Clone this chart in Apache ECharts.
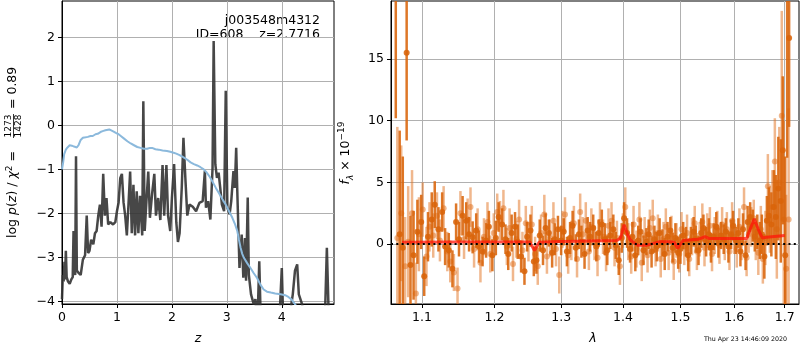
<!DOCTYPE html>
<html>
<head>
<meta charset="utf-8">
<script src="https://cdn.jsdelivr.net/npm/echarts@6/dist/echarts.min.js"></script>
<style>html,body{margin:0;padding:0;background:#fff}#chart{width:800px;height:350px}</style>
</head>
<body>
<div id="chart"></div>
<script>
// left panel: p(z) curve (dark) and prior (blue)
var pzZ = [0.00, 0.015, 0.03, 0.045, 0.055, 0.07, 0.085, 0.11, 0.14, 0.17, 0.195, 0.21, 0.225, 0.24, 0.255, 0.27, 0.30, 0.34, 0.38, 0.42,
    0.45, 0.475, 0.50, 0.53, 0.57, 0.60, 0.63, 0.66, 0.69, 0.72, 0.75, 0.78, 0.81, 0.84, 0.88, 0.93, 0.97, 1.00, 1.03, 1.06,
    1.09, 1.12, 1.15, 1.18, 1.21, 1.24, 1.27, 1.30, 1.33, 1.36, 1.39, 1.42, 1.46, 1.48, 1.505, 1.54, 1.57, 1.60, 1.64, 1.68,
    1.71, 1.75, 1.79, 1.83, 1.86, 1.90, 1.93, 1.97, 2.00, 2.04, 2.08, 2.11, 2.14, 2.18, 2.21, 2.245, 2.28, 2.32, 2.38, 2.44,
    2.50, 2.56, 2.60, 2.62, 2.66, 2.70, 2.74, 2.76, 2.79, 2.82, 2.85, 2.88, 2.91, 2.95, 2.98, 3.01, 3.05, 3.08, 3.12, 3.145,
    3.17, 3.19, 3.23, 3.27, 3.30, 3.33, 3.35, 3.38, 3.40, 3.44, 3.49, 3.52, 3.555, 3.59, 3.62, 3.70, 3.80, 3.95, 4.00, 4.03,
    4.10, 4.17, 4.20, 4.24, 4.28, 4.31, 4.37, 4.42, 4.60, 4.78, 4.82, 4.86, 4.92];
var pzLog = [-3.95, -3.4, -3.55, -3.1, -3.5, -2.85, -3.45, -3.55, -3.6, -3.5, -3.45, -2.4, -3.3, -3.4, -0.7, -3.3, -3.35, -3.4, -3.05, -2.95,
    -2.05, -2.9, -2.85, -2.6, -2.7, -2.45, -2.4, -2.05, -1.8, -2.3, -1.1, -2.05, -1.65, -2.25, -2.2, -2.25, -2.2, -1.95, -1.75, -1.2,
    -1.1, -1.75, -2.05, -2.5, -1.8, -1.05, -2.45, -1.35, -2.5, -1.5, -2.45, -1.6, -2.5, 0.55, -2.4, -1.65, -1.05, -2.1, -1.55, -1.1,
    -2.05, -1.65, -2.15, -0.9, -2.05, -0.9, -2.05, -2.4, -1.65, -0.88, -2.2, -2.65, -2.45, -1.4, -0.28, -1.2, -2.05, -1.8, -1.85, -1.95,
    -1.76, -1.72, -1.04, -1.87, -1.72, -2.14, -0.96, 1.92, -0.88, -1.19, -1.07, -1.42, -1.8, -1.95, 0.79, -1.87, -2.02, -1.72, -1.04, -1.42,
    -0.51, -1.49, -3.24, -2.48, -3.46, -2.56, -3.53, -1.64, -3.39, -3.84, -4.07, -3.95, -4.6, -3.09, -4.6, -5.0, -5.0, -4.6, -3.24, -4.6,
    -4.4, -4.1, -3.84, -3.3, -3.16, -3.84, -4.07, -4.6, -5.0, -4.6, -2.78, -4.6, -5.0];

var priorZ = [0.00, 0.02, 0.04, 0.07, 0.10, 0.14, 0.18, 0.22, 0.27, 0.30, 0.34, 0.38, 0.43, 0.47, 0.52, 0.56, 0.61, 0.65, 0.70, 0.74,
    0.79, 0.82, 0.86, 0.89, 0.94, 0.98, 1.03, 1.07, 1.13, 1.19, 1.25, 1.31, 1.37, 1.43, 1.49, 1.55, 1.60, 1.64, 1.70, 1.76,
    1.83, 1.91, 1.97, 2.03, 2.08, 2.13, 2.18, 2.22, 2.28, 2.34, 2.40, 2.46, 2.52, 2.58, 2.62, 2.68, 2.74, 2.80, 2.86, 2.92,
    2.98, 3.04, 3.10, 3.15, 3.19, 3.22, 3.25, 3.28, 3.31, 3.37, 3.43, 3.49, 3.55, 3.61, 3.67, 3.73, 3.80, 3.88, 3.98, 4.06,
    4.12, 4.18, 4.22, 4.27];
var priorLog = [-1.0, -0.85, -0.65, -0.55, -0.5, -0.45, -0.46, -0.48, -0.5, -0.45, -0.33, -0.28, -0.27, -0.26, -0.24, -0.24, -0.2, -0.19, -0.15, -0.13,
    -0.11, -0.08, -0.09, -0.12, -0.14, -0.17, -0.2, -0.24, -0.3, -0.36, -0.41, -0.45, -0.49, -0.51, -0.53, -0.53, -0.51, -0.51, -0.54, -0.55,
    -0.57, -0.58, -0.6, -0.62, -0.64, -0.67, -0.7, -0.73, -0.78, -0.84, -0.88, -0.91, -0.95, -1.0, -1.05, -1.15, -1.28, -1.42, -1.55, -1.68,
    -1.8, -1.95, -2.1, -2.25, -2.4, -2.6, -2.78, -2.92, -3.01, -3.13, -3.24, -3.36, -3.47, -3.62, -3.73, -3.78, -3.8, -3.82, -3.84, -3.86,
    -3.9, -3.96, -4.03, -4.12];

var zTicks = [0, 1, 2, 3, 4];
var logTicks = [-4, -3, -2, -1, 0, 1, 2];

// right panel: spectrum (two sets of error bars) and model
var darkWave = [1.066, 1.071, 1.075, 1.080, 1.085, 1.089, 1.094, 1.099, 1.103, 1.108,
    1.113, 1.117, 1.122, 1.127, 1.131, 1.136, 1.141, 1.146, 1.150, 1.155,
    1.160, 1.164, 1.169, 1.174, 1.178, 1.183, 1.188, 1.192, 1.197, 1.202,
    1.206, 1.211, 1.216, 1.220, 1.225, 1.230, 1.234, 1.239, 1.244, 1.248,
    1.253, 1.258, 1.262, 1.267, 1.272, 1.276, 1.281, 1.286, 1.290, 1.295,
    1.300, 1.304, 1.309, 1.314, 1.318, 1.323, 1.328, 1.332, 1.337, 1.342,
    1.346, 1.351, 1.356, 1.360, 1.365, 1.370, 1.374, 1.379, 1.384, 1.388,
    1.393, 1.398, 1.402, 1.407, 1.412, 1.416, 1.421, 1.426, 1.430, 1.435,
    1.440, 1.444, 1.449, 1.454, 1.458, 1.463, 1.468, 1.472, 1.477, 1.482,
    1.486, 1.491, 1.496, 1.500, 1.505, 1.510, 1.514, 1.519, 1.524, 1.528,
    1.533, 1.538, 1.542, 1.547, 1.552, 1.556, 1.561, 1.566, 1.570, 1.575,
    1.580, 1.584, 1.589, 1.594, 1.598, 1.603, 1.608, 1.612, 1.617, 1.622,
    1.626, 1.631, 1.636, 1.640, 1.645, 1.650, 1.654, 1.659, 1.664, 1.668,
    1.673, 1.678, 1.682, 1.687, 1.692, 1.696, 1.701, 1.705, 1.709];
var darkFlux = [25, 0.8, -0.3, 15.5, -1.7, -0.9, 1.0, 1.8, -2.6, 0.6,
    2.0, 3.2, 1.2, 2.6, -0.2, -0.5, -2.0, 1.8, 0.4, 2.3,
    1.9, 0.8, 0.55, 1.1, -0.2, -0.6, 0.3, 1.4, -0.9, 0.5,
    2.2, 1.6, 0.4, -0.8, 0.9, 1.4, 0.2, -1.0, -2.2, 0.6,
    1.1, -1.4, -1.3, 0.7, -0.5, 1.3, 0.9, -0.7, 0.4, 1.2,
    0.3, 1.0, -0.6, 0.5, 1.5, -0.3, 0.8, 0.2, -0.8, 1.1,
    0.6, 1.3, -0.2, 0.9, 1.6, 0.4, -0.5, 0.7, 1.2, -0.1,
    -1.3, 0.5, 2.1, 0.9, -0.4, 0.6, -0.9, 0.3, 1.0, -0.5,
    0.2, 0.8, -0.6, 0.4, -0.2, 0.9, 0.1, -0.8, 0.6, 1.1,
    -0.3, 0.5, -0.7, -0.4, 0.7, 0.2, -0.9, 0.3, 1.0, 0.4,
    -0.5, 0.9, 1.3, 0.2, 0.8, -0.3, 0.6, 1.4, 0.1, 0.7,
    0.4, 1.0, -0.2, 0.8, 1.5, 0.3, 0.9, -0.6, 1.2, -0.9,
    1.8, 2.2, 1.5, 0.6, 1.0, 0.3, 0.8, -1.0, 1.9, 2.3,
    1.6, 3.0, 2.2, 4.5, 3.5, 7.6, -0.9, 25, 16.7];
var darkErr = [14.8, 8.4, 7.4, 7.1, 4.0, 3.6, 2.6, 2.2, 1.6, 2.0,
    2.2, 1.9, 1.8, 1.6, 1.5, 1.4, 1.5, 1.5, 1.4, 1.6,
    1.5, 1.4, 1.3, 1.4, 1.3, 1.2, 1.4, 1.3, 1.3, 1.4,
    1.2, 1.3, 1.2, 1.3, 1.5, 1.2, 1.4, 1.3, 1.1, 1.2,
    1.3, 1.2, 1.1, 1.3, 1.2, 1.2, 1.1, 1.2, 1.3, 1.1,
    1.2, 1.1, 1.2, 1.3, 1.2, 1.1, 1.2, 1.3, 1.2, 1.1,
    1.2, 1.1, 1.2, 1.1, 1.2, 1.3, 1.2, 1.1, 1.2, 1.1,
    1.2, 1.2, 1.3, 1.2, 1.1, 1.2, 1.3, 1.2, 1.1, 1.2,
    1.1, 1.2, 1.3, 1.1, 1.2, 1.2, 1.1, 1.3, 1.2, 1.1,
    1.2, 1.2, 1.3, 1.2, 1.1, 1.2, 1.3, 1.1, 1.2, 1.1,
    1.2, 1.2, 1.1, 1.2, 1.3, 1.2, 1.1, 1.2, 1.2, 1.1,
    1.2, 1.1, 1.3, 1.2, 1.2, 1.1, 1.2, 1.2, 1.3, 1.2,
    1.3, 1.2, 1.3, 1.2, 1.4, 1.5, 1.6, 1.8, 2.0, 2.3,
    2.6, 3.0, 3.4, 4.2, 5.0, 6.0, 8.0, 18, 7.2];

var lightWave = [1.068, 1.073, 1.078, 1.082, 1.087, 1.092, 1.096, 1.101, 1.106, 1.110,
    1.115, 1.120, 1.124, 1.129, 1.134, 1.138, 1.143, 1.148, 1.152, 1.157,
    1.162, 1.166, 1.171, 1.176, 1.180, 1.185, 1.190, 1.194, 1.199, 1.204,
    1.208, 1.213, 1.218, 1.222, 1.227, 1.232, 1.236, 1.241, 1.246, 1.250,
    1.255, 1.260, 1.264, 1.269, 1.274, 1.278, 1.283, 1.288, 1.292, 1.297,
    1.302, 1.306, 1.311, 1.316, 1.320, 1.325, 1.330, 1.334, 1.339, 1.344,
    1.348, 1.353, 1.358, 1.362, 1.367, 1.372, 1.376, 1.381, 1.386, 1.390,
    1.395, 1.400, 1.404, 1.409, 1.414, 1.418, 1.423, 1.428, 1.432, 1.437,
    1.442, 1.446, 1.451, 1.456, 1.460, 1.465, 1.470, 1.474, 1.479, 1.484,
    1.488, 1.493, 1.498, 1.502, 1.507, 1.512, 1.516, 1.521, 1.526, 1.530,
    1.535, 1.540, 1.544, 1.549, 1.554, 1.558, 1.563, 1.568, 1.572, 1.577,
    1.582, 1.586, 1.591, 1.596, 1.600, 1.605, 1.610, 1.614, 1.619, 1.624,
    1.628, 1.633, 1.638, 1.642, 1.647, 1.652, 1.656, 1.661, 1.666, 1.670,
    1.675, 1.680, 1.684, 1.689, 1.694, 1.698, 1.703, 1.708];
var lightFlux = [0.5, 2.5, -1.8, 0.2, 2.5, -4.0, 0.8, 2.8, -1.0, 1.4,
    0.7, 2.3, 0.3, 2.9, -0.6, -1.4, -2.3, -3.6, 2.5, 0.4,
    2.0, 3.0, -0.4, 1.2, -1.5, 0.6, 1.8, -0.8, 0.9, 2.6,
    1.9, 2.9, -0.2, 1.3, -1.6, 0.4, 2.0, -0.5, 1.7, 0.2,
    1.6, -0.8, -1.8, 0.9, 2.4, -1.0, 0.5, 1.9, -0.4, -2.5,
    1.2, 2.4, -0.9, 0.3, 1.7, -1.2, 2.6, 0.8, 1.9, -0.6,
    1.4, 0.1, -1.1, 1.8, 0.6, -0.7, 1.5, 1.9, -0.3, 0.5,
    -1.8, 1.1, 3.0, 0.2, -1.0, 1.6, -0.4, 2.0, -1.5, 0.7,
    -0.9, 1.3, 2.1, -0.4, 0.9, -1.2, 0.4, 1.4, -0.7, 0.8,
    -1.4, 0.3, -0.8, 1.2, -0.2, 0.9, -1.2, 0.6, 1.7, -0.6,
    0.4, 1.8, -0.3, 1.1, 1.5, -0.8, 0.7, 1.3, -0.1, 1.6,
    0.2, 1.2, -0.6, 1.9, 0.6, -0.4, 1.4, 0.1, 3.0, -1.1,
    0.8, 1.4, 2.1, 0.4, -0.7, 1.2, -1.2, 0.5, 4.7, 2.0,
    3.0, 6.7, 1.2, 5.0, 10.4, 2.0, -2.0, 2.0];
var lightErr = [9.0, 5.5, 4.0, 4.5, 3.5, 2.5, 3.0, 2.2, 2.4, 2.0,
    1.8, 1.9, 1.7, 1.8, 1.6, 1.7, 1.5, 1.7, 1.8, 1.6,
    1.7, 1.6, 1.5, 1.7, 1.6, 1.5, 1.6, 1.5, 1.6, 1.5,
    1.6, 1.5, 1.5, 1.6, 1.4, 1.5, 1.6, 1.5, 1.4, 1.6,
    1.5, 1.4, 1.5, 1.5, 1.6, 1.4, 1.5, 1.5, 1.4, 1.5,
    1.5, 1.4, 1.5, 1.6, 1.4, 1.5, 1.5, 1.4, 1.5, 1.5,
    1.5, 1.4, 1.5, 1.6, 1.4, 1.5, 1.4, 1.5, 1.5, 1.4,
    1.5, 1.4, 1.6, 1.5, 1.4, 1.5, 1.5, 1.4, 1.5, 1.5,
    1.4, 1.5, 1.5, 1.4, 1.5, 1.5, 1.4, 1.5, 1.4, 1.5,
    1.5, 1.4, 1.5, 1.4, 1.5, 1.5, 1.4, 1.5, 1.4, 1.5,
    1.4, 1.5, 1.5, 1.4, 1.5, 1.4, 1.5, 1.4, 1.5, 1.4,
    1.5, 1.4, 1.5, 1.5, 1.4, 1.5, 1.5, 1.4, 1.6, 1.5,
    1.5, 1.6, 1.5, 1.7, 1.8, 1.9, 2.0, 2.2, 2.6, 2.7,
    3.0, 3.5, 4.0, 4.5, 8.5, 8.0, 6.0, 9.0];

var modelWave = [1.074, 1.15, 1.252, 1.259, 1.266, 1.30, 1.39, 1.396, 1.402, 1.407, 1.412, 1.425, 1.44, 1.463, 1.48,
    1.489, 1.495, 1.505, 1.52, 1.533, 1.545, 1.553, 1.60, 1.624, 1.631, 1.639, 1.647, 1.655, 1.663, 1.70];
var modelFlux = [0.16, 0.18, 0.18, -0.52, 0.15, 0.22, 0.29, 0.5, 1.57, 0.9, 0.35, -0.1, -0.1, 0.2, 0.2,
    0.15, -0.34, 0.3, 0.35, 0.4, 0.6, 0.45, 0.45, 0.45, 1.2, 2.05, 1.2, 0.5, 0.55, 0.7];

var lamMin = 1.0599, lamMax = 1.7294;
var lamTicks = [1.1, 1.2, 1.3, 1.4, 1.5, 1.6, 1.7];
var fluxTicks = [0, 5, 10, 15];

var FONT = 'DejaVu Sans';
var FS = 12.5;
var GRID_COLOR = '#b0b0b0';

function minus(v) {
    return String(v).replace('-', '\u2212');
}

function pairs(xs, ys, fx) {
    return xs.map(function (x, i) {
        return [fx ? fx(x) : x, ys[i]];
    });
}

function errData(w, f, e) {
    return w.map(function (x, i) {
        return [Math.log(x), f[i], e[i]];
    });
}

function errRenderer(color) {
    return function (params, api) {
        var x = api.value(0), y = api.value(1), e = api.value(2);
        var top = api.coord([x, y + e]);
        var bot = api.coord([x, y - e]);
        var c = api.coord([x, y]);
        return {
            type: 'group',
            children: [
                {type: 'line', shape: {x1: top[0], y1: top[1], x2: bot[0], y2: bot[1]},
                    style: {stroke: color, lineWidth: 2.5}},
                {type: 'circle', shape: {cx: c[0], cy: c[1], r: 3}, style: {fill: color}}
            ]
        };
    };
}

function baseAxis(extra) {
    var a = {
        type: 'value',
        axisLine: {show: true, onZero: false, lineStyle: {color: '#000', width: 1}},
        axisTick: {show: true, length: 4, lineStyle: {color: '#000', width: 1}},
        axisLabel: {color: '#000', fontFamily: FONT, fontSize: FS, margin: 7},
        splitLine: {show: true, lineStyle: {color: GRID_COLOR, width: 1}}
    };
    for (var k in extra) {
        if (typeof extra[k] === 'object' && a[k] && !Array.isArray(extra[k])) {
            for (var kk in extra[k]) a[k][kk] = extra[k][kk];
        } else {
            a[k] = extra[k];
        }
    }
    return a;
}

function txt(x, y, s, font, align) {
    return {type: 'text', x: x, y: y, style: {text: s, font: font, fill: '#000',
        align: align, verticalAlign: 'middle', textAlign: align, textVerticalAlign: 'middle'}};
}

var chart = echarts.init(document.getElementById('chart'));

var option = {
    animation: false,
    grid: [
        {left: 62, top: 1, width: 272, height: 303, show: true, borderColor: '#000', borderWidth: 1},
        {left: 391, top: 1, width: 408, height: 303, show: true, borderColor: '#000', borderWidth: 1}
    ],
    xAxis: [
        baseAxis({gridIndex: 0, min: 0, max: 4.95,
            axisTick: {customValues: zTicks},
            axisLabel: {customValues: zTicks, formatter: function (v) { return minus(v); }}}),
        baseAxis({gridIndex: 1, min: Math.log(lamMin), max: Math.log(lamMax),
            axisTick: {customValues: lamTicks.map(Math.log)},
            axisLabel: {customValues: lamTicks.map(Math.log), formatter: function (v) { return Math.exp(v).toFixed(1); }}})
    ],
    yAxis: [
        baseAxis({gridIndex: 0, min: -4.06, max: 2.83,
            axisTick: {customValues: logTicks},
            axisLabel: {customValues: logTicks, formatter: function (v) { return minus(v); }}}),
        baseAxis({gridIndex: 1, min: -4.85, max: 19.7,
            axisTick: {customValues: fluxTicks},
            axisLabel: {customValues: fluxTicks, formatter: function (v) { return minus(v); }}})
    ],
    graphic: [
        txt(320, 20.5, 'j003548m4312', FS + 'px "DejaVu Sans"', 'right'),
        txt(320, 35, 'ID=608    z=2.7716', FS + 'px "DejaVu Sans"', 'right'),
        txt(198, 339, 'z', 'italic ' + FS + 'px "DejaVu Sans"', 'center'),
        txt(593, 339, 'λ', 'italic ' + FS + 'px "DejaVu Sans"', 'center'),
        txt(787, 339, 'Thu Apr 23 14:46:09 2020', '6.3px "DejaVu Sans"', 'right'),
        // left y label, rotated
        {type: 'group', x: 13, y: 126, rotation: Math.PI / 2, children: [
            {type: 'text', x: -25, y: 0, style: {
                text: '{n|log }{i|p}{n|(}{i|z}{n|) / }{i|χ}{s|2}{n| =}',
                align: 'right', verticalAlign: 'middle', textAlign: 'right', textVerticalAlign: 'middle', fill: '#000',
                rich: {
                    n: {fontFamily: FONT, fontSize: FS, lineHeight: 16, verticalAlign: 'middle'},
                    i: {fontFamily: FONT, fontSize: FS, fontStyle: 'italic', lineHeight: 16, verticalAlign: 'middle'},
                    s: {fontFamily: FONT, fontSize: 9, lineHeight: 16, verticalAlign: 'top'}
                }}},
            txt(0, -4.5, '1273', '9px "DejaVu Sans"', 'center'),
            {type: 'line', shape: {x1: -12, y1: 0.5, x2: 12, y2: 0.5}, style: {stroke: '#000', lineWidth: 0.8}},
            txt(0, 5.5, '1428', '9px "DejaVu Sans"', 'center'),
            txt(17, 0, '= 0.89', FS + 'px "DejaVu Sans"', 'left')
        ]},
        // right y label, rotated
        {type: 'group', x: 346, y: 153, rotation: Math.PI / 2, children: [
            {type: 'text', x: 0, y: 0, style: {
                text: '{i|f}{b|λ}{n| × 10}{p|−19}',
                align: 'center', verticalAlign: 'middle', textAlign: 'center', textVerticalAlign: 'middle', fill: '#000',
                rich: {
                    n: {fontFamily: FONT, fontSize: FS, lineHeight: 18, verticalAlign: 'middle'},
                    i: {fontFamily: FONT, fontSize: FS, fontStyle: 'italic', lineHeight: 18, verticalAlign: 'middle'},
                    b: {fontFamily: FONT, fontSize: 9, fontStyle: 'italic', lineHeight: 18, verticalAlign: 'bottom'},
                    p: {fontFamily: FONT, fontSize: 9, lineHeight: 18, verticalAlign: 'top'}
                }}}
        ]}
    ],
    series: [
        {
            name: 'pz', type: 'line', xAxisIndex: 0, yAxisIndex: 0,
            data: pairs(pzZ, pzLog), showSymbol: false, clip: true, z: 2,
            lineStyle: {color: '#333333', width: 2.5, opacity: 0.9}
        },
        {
            name: 'prior', type: 'line', xAxisIndex: 0, yAxisIndex: 0,
            data: pairs(priorZ, priorLog), showSymbol: false, clip: true, z: 3,
            lineStyle: {color: '#8bb9dc', width: 2}
        },
        {
            name: 'spec_b', type: 'custom', xAxisIndex: 1, yAxisIndex: 1, clip: true, z: 2,
            data: errData(lightWave, lightFlux, lightErr),
            renderItem: errRenderer('rgba(226,112,28,0.5)')
        },
        {
            name: 'spec_a', type: 'custom', xAxisIndex: 1, yAxisIndex: 1, clip: true, z: 3,
            data: errData(darkWave, darkFlux, darkErr),
            renderItem: errRenderer('rgba(218,100,10,0.88)')
        },
        {
            name: 'model', type: 'line', xAxisIndex: 1, yAxisIndex: 1,
            data: pairs(modelWave, modelFlux, Math.log), showSymbol: false, clip: true, z: 4,
            lineStyle: {color: 'rgba(255,20,10,0.75)', width: 3}
        },
        {
            name: 'zero', type: 'line', xAxisIndex: 1, yAxisIndex: 1, data: [], z: 5,
            markLine: {
                silent: true, symbol: 'none', label: {show: false},
                lineStyle: {color: '#000', type: [2, 3.3], width: 2},
                data: [{yAxis: 0}]
            }
        }
    ]
};

chart.setOption(option);
</script>
</body>
</html>
